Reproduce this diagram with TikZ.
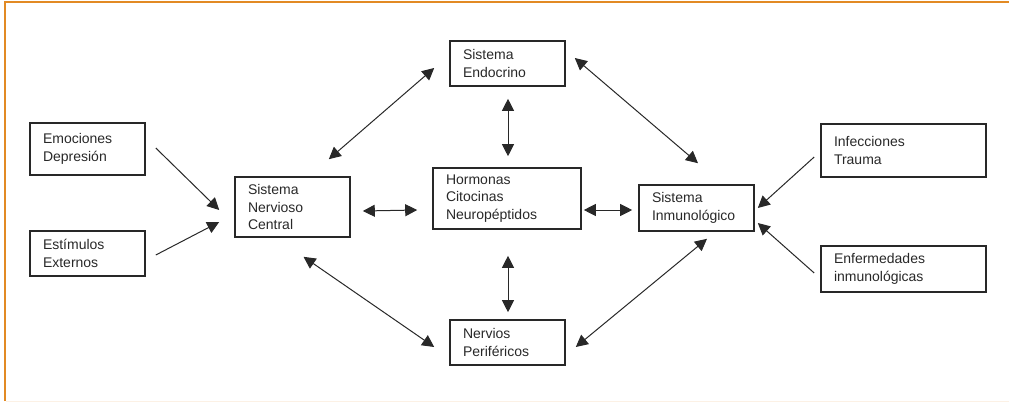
\documentclass[tikz,border=0pt]{standalone}
\usepackage{fontspec}
\setmainfont{Liberation Sans}
\usepackage{tikz}
\usetikzlibrary{arrows.meta,calc}
\definecolor{marco}{RGB}{226, 138, 36}
\definecolor{tinta}{RGB}{40, 40, 40}

\tikzset{
  caja/.style={draw=tinta, line width=1.6pt, rectangle, align=left, inner xsep=13pt,
               text=tinta, font=\fontsize{14}{17.5}\selectfont},
  flecha/.style={draw=tinta, line width=1pt, -{Triangle[length=12pt,width=12pt]}},
  doble/.style={draw=tinta, line width=1pt, {Triangle[length=12pt,width=12pt]}-{Triangle[length=12pt,width=12pt]}}
}

\begin{document}
\begin{tikzpicture}[x=1pt, y=-1pt]
            % Frame
            \useasboundingbox (0,0) rectangle (1009,402);
            \draw[color=marco, line width=2pt] (5,401) -- (5,2) -- (1009,2);
            \draw[color=marco!12, line width=1pt] (6,401) -- (1009,401);
            % Inputs on the left
            \node[caja, minimum width=115pt, minimum height=52pt, text width=89pt] (emo) at (87.5,149) {Emociones\\Depresión};
            \node[caja, minimum width=115pt, minimum height=45pt, text width=89pt] (est) at (87.5,253.5) {Estímulos\\Externos};
            % Central systems
            \node[caja, minimum width=115pt, minimum height=60pt, text width=89pt] (snc) at (292.5,207) {Sistema\\Nervioso\\Central};
            \node[caja, minimum width=115pt, minimum height=45pt, text width=89pt] (endo) at (507.5,63.5) {Sistema\\Endocrino};
            \node[caja, minimum width=148pt, minimum height=61pt, text width=122pt] (horm) at (507,198.5) {Hormonas\\Citocinas\\Neuropéptidos};
            \node[caja, minimum width=115pt, minimum height=45pt, text width=89pt] (nerv) at (507.5,342.5) {Nervios\\Periféricos};
            \node[caja, minimum width=115pt, minimum height=46pt, text width=89pt] (inmu) at (696.5,208) {Sistema\\Inmunológico};
            % Inputs on the right
            \node[caja, minimum width=165pt, minimum height=53pt, text width=139pt] (infe) at (903.5,150.5) {Infecciones\\Trauma};
            \node[caja, minimum width=165pt, minimum height=46pt, text width=139pt] (enfe) at (903.5,269) {Enfermedades\\inmunológicas};
            % One-way arrows
            \draw[flecha] ($(emo.east)+(10,-1)$) -- ($(snc.west)+(-15,3)$);
            \draw[flecha] ($(est.east)+(10,1.5)$) -- ($(snc.west)+(-15,15)$);
            \draw[flecha] ($(infe.west)+(-6,6.5)$) -- ($(inmu.east)+(3,0)$);
            \draw[flecha] ($(enfe.west)+(-6,4)$) -- ($(inmu.east)+(3,15)$);
            % Two-way arrows
            \draw[doble] ($(snc.north east)+(-22,-17)$) -- ($(endo.west)+(-15,4.5)$);
            \draw[doble] ($(snc.east)+(12,4)$) -- ($(horm.west)+(-15,11.5)$);
            \draw[doble] ($(snc.south)+(11,19)$) -- ($(nerv.west)+(-15,4.5)$);
            \draw[doble] ($(endo.south)+(0.5,12)$) -- ($(horm.north)+(1,-11)$);
            \draw[doble] ($(horm.south)+(1,26)$) -- ($(nerv.north)+(0.5,-7)$);
            \draw[doble] ($(endo.east)+(9,-5.5)$) -- ($(inmu.north)+(1.5,-21)$);
            \draw[doble] ($(horm.east)+(2,11.5)$) -- ($(inmu.west)+(-6,2)$);
            \draw[doble] ($(nerv.east)+(10,4.5)$) -- ($(inmu.south)+(10.5,7)$);
\end{tikzpicture}
\end{document}
